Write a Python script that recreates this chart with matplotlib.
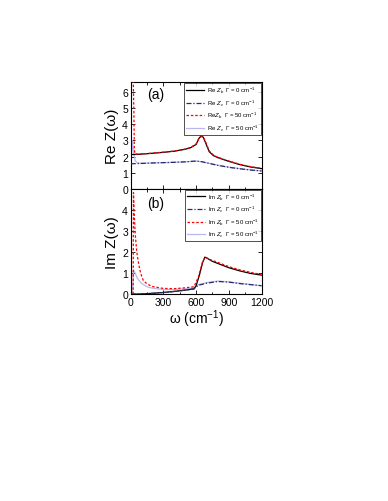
import numpy as np
import matplotlib
matplotlib.use("Agg")
import matplotlib.pyplot as plt
from matplotlib.ticker import MultipleLocator

plt.rcParams['font.family'] = ['Liberation Sans', 'DejaVu Sans']
plt.rcParams['mathtext.fontset'] = 'custom'
plt.rcParams['mathtext.rm'] = 'Liberation Sans'
plt.rcParams['mathtext.it'] = 'Liberation Sans:italic'

# ---- panel (a): real part ----
w_re_b0 = [0, 50, 100, 200, 300, 400, 500, 550, 600, 625, 645, 665, 690, 720, 760, 800, 900, 1000, 1100, 1200]
re_b0 = [2.12, 2.13, 2.15, 2.2, 2.26, 2.33, 2.45, 2.55, 2.75, 3.12, 3.27, 3.2, 2.8, 2.3, 2.05, 1.93, 1.7, 1.5, 1.35, 1.25]

w_re_c0 = [0, 100, 200, 300, 400, 500, 600, 650, 700, 800, 900, 1000, 1100, 1200]
re_c0 = [1.55, 1.57, 1.6, 1.62, 1.64, 1.67, 1.72, 1.68, 1.6, 1.45, 1.33, 1.24, 1.16, 1.1]

w_re_b50 = [22, 28, 33, 40, 100, 200, 300, 400, 500, 550, 600, 625, 648, 668, 692, 720, 760, 800, 900, 1000, 1100, 1200]
re_b50 = [7.0, 5.0, 2.4, 2.15, 2.16, 2.21, 2.27, 2.34, 2.46, 2.56, 2.78, 3.1, 3.24, 3.18, 2.82, 2.35, 2.08, 1.95, 1.72, 1.52, 1.37, 1.27]

w_re_c50 = [8, 15, 25, 40, 60, 100, 200, 300, 400, 500, 600, 650, 700, 800, 900, 1000, 1100, 1200]
re_c50 = [2.2, 3.0, 2.3, 1.75, 1.6, 1.58, 1.6, 1.62, 1.64, 1.67, 1.71, 1.68, 1.61, 1.46, 1.34, 1.25, 1.17, 1.11]

# ---- panel (b): imaginary part ----
w_im_b0 = [0, 100, 200, 300, 400, 500, 580, 600, 630, 660, 680, 700, 750, 800, 900, 1000, 1100, 1200]
im_b0 = [0, 0.01, 0.04, 0.08, 0.13, 0.19, 0.25, 0.4, 0.9, 1.5, 1.75, 1.7, 1.55, 1.45, 1.25, 1.1, 0.98, 0.9]

w_im_c0 = [0, 100, 200, 300, 400, 500, 580, 620, 700, 800, 900, 1000, 1100, 1200]
im_c0 = [0, 0.01, 0.04, 0.08, 0.13, 0.19, 0.25, 0.42, 0.52, 0.6, 0.57, 0.5, 0.45, 0.4]

w_im_b50 = [22, 25, 30, 40, 55, 70, 90, 115, 150, 200, 300, 400, 500, 580, 620, 660, 685, 720, 800, 900, 1000, 1100, 1200]
im_b50 = [0, 4.8, 4.0, 2.9, 2.0, 1.5, 1.0, 0.65, 0.48, 0.36, 0.27, 0.26, 0.3, 0.35, 0.8, 1.55, 1.75, 1.65, 1.5, 1.3, 1.15, 1.03, 0.93]

w_im_c50 = [15, 25, 40, 60, 100, 150, 200, 300, 400, 500, 580, 620, 700, 800, 900, 1000, 1100, 1200]
im_c50 = [0, 1.15, 1.0, 0.75, 0.5, 0.35, 0.28, 0.22, 0.22, 0.25, 0.3, 0.45, 0.55, 0.62, 0.58, 0.52, 0.46, 0.4]

fig = plt.figure(figsize=(3.88, 5.02), dpi=100)
ax1 = fig.add_axes([0.337, 0.622, 0.337, 0.212])
ax2 = fig.add_axes([0.337, 0.412, 0.337, 0.210])

navy = '#2a2a6a'
lav = '#b8b8f0'
dashdot = (0, (4, 1.5, 1, 1.5))

ax1.plot(w_re_b0, re_b0, color='k', lw=0.9, zorder=3, label=r'Re $Z_b$  $\Gamma$ = 0 cm$^{-1}$')
ax1.plot(w_re_c0, re_c0, color=navy, lw=0.9, ls=dashdot, zorder=3, label=r'Re $Z_c$  $\Gamma$ = 0 cm$^{-1}$')
ax1.plot(w_re_b50, re_b50, color='red', lw=0.9, ls=(0, (2, 1.5)), zorder=4, label=r'Re$Z_b$  $\Gamma$ = 50 cm$^{-1}$')
ax1.plot(w_re_c50, re_c50, color=lav, lw=0.9, zorder=2, label=r'Re $Z_c$  $\Gamma$ = 50 cm$^{-1}$')

ax2.plot(w_im_b0, im_b0, color='k', lw=0.9, zorder=3, label=r'Im $Z_b$  $\Gamma$ = 0 cm$^{-1}$')
ax2.plot(w_im_c0, im_c0, color=navy, lw=0.9, ls=dashdot, zorder=3, label=r'Im $Z_c$  $\Gamma$ = 0 cm$^{-1}$')
ax2.plot(w_im_b50, im_b50, color='red', lw=0.9, ls=(0, (2, 1.5)), zorder=4, label=r'Im $Z_b$  $\Gamma$ = 50 cm$^{-1}$')
ax2.plot(w_im_c50, im_c50, color=lav, lw=0.9, zorder=2, label=r'Im $Z_c$  $\Gamma$ = 50 cm$^{-1}$')

for ax in (ax1, ax2):
    ax.set_xlim(0, 1200)
    ax.xaxis.set_major_locator(MultipleLocator(300))
    ax.xaxis.set_minor_locator(MultipleLocator(150))
    ax.yaxis.set_major_locator(MultipleLocator(1))
    ax.tick_params(which='both', direction='in', top=True, right=True, labelsize=7.5, pad=2)
    ax.tick_params(which='major', length=3, width=0.6)
    ax.tick_params(which='minor', length=1.8, width=0.6)
    for s in ax.spines.values():
        s.set_linewidth(0.8)
    leg = ax.legend(loc='upper right', fontsize=4.3, handlelength=3.0, frameon=True,
                    fancybox=False, borderaxespad=0.15, labelspacing=0.4,
                    borderpad=0.3, handletextpad=0.5)
    leg.get_frame().set_edgecolor('k')
    leg.get_frame().set_linewidth(0.6)
    leg.set_zorder(5)

ax1.set_ylim(0, 6.6)
ax2.set_ylim(0, 4.98)
ax1.tick_params(labelbottom=False)

ax1.text(150, 5.6, '(a)', fontsize=10)
ax2.text(150, 4.1, '(b)', fontsize=10)

ax1.set_ylabel('Re Z(\u03c9)', fontsize=11, labelpad=2)
ax2.set_ylabel('Im Z(\u03c9)', fontsize=11, labelpad=2)
ax2.set_xlabel('\u03c9 (cm$^{-1}$)', fontsize=10, labelpad=0)

fig.savefig('out.png', dpi=100)
